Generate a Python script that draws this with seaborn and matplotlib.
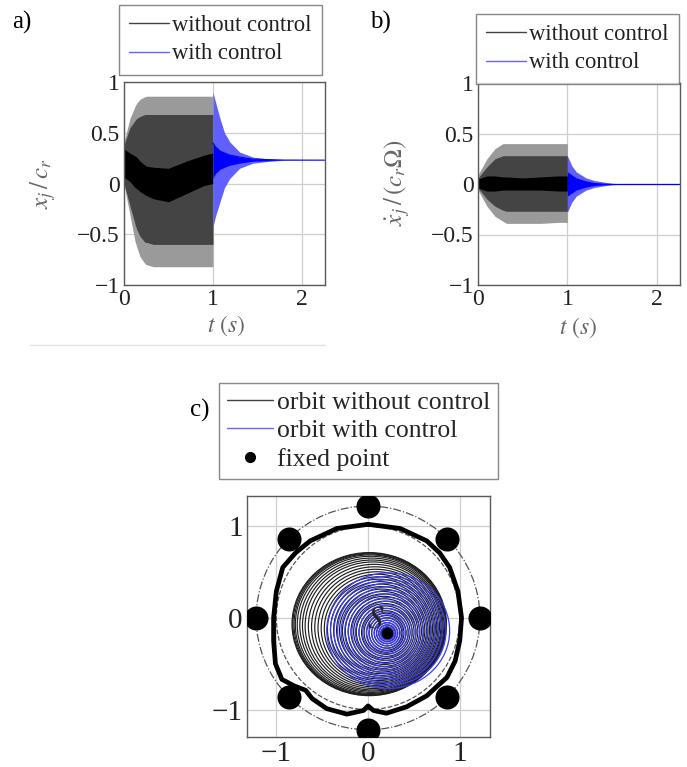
import numpy as np
import pandas as pd
import matplotlib
matplotlib.use("Agg")
import matplotlib.pyplot as plt
import seaborn as sns
from matplotlib.patches import Circle, Ellipse
from matplotlib.lines import Line2D

# ---------------- data ----------------
# panel a: envelope of x_j/c_r without control (t in s)
ta_env = [0.0, 0.067, 0.124, 0.142, 0.18, 0.236, 0.255, 0.33, 0.5, 0.7, 0.9, 1.0]
a_up   = [0.41, 0.64, 0.76, 0.79, 0.83, 0.855, 0.86, 0.86, 0.86, 0.86, 0.86, 0.86]
a_lo   = [-0.01, -0.31, -0.57, -0.62, -0.72, -0.79, -0.80, -0.82, -0.82, -0.82, -0.82, -0.82]
a_mid_up = [0.38, 0.55, 0.62, 0.64, 0.66, 0.68, 0.68, 0.68, 0.68, 0.68, 0.68, 0.68]
a_mid_lo = [0.0, -0.22, -0.40, -0.45, -0.52, -0.58, -0.58, -0.60, -0.60, -0.60, -0.60, -0.60]
a_core_up = [0.34, 0.30, 0.27, 0.26, 0.22, 0.18, 0.17, 0.16, 0.15, 0.22, 0.28, 0.30]
a_core_lo = [0.06, 0.02, -0.04, -0.05, -0.08, -0.11, -0.12, -0.15, -0.18, -0.10, -0.02, 0.0]
# panel a: with control
tca_env = [1.0, 1.03, 1.08, 1.13, 1.19, 1.3, 1.45, 1.64, 1.8, 2.26]
ca_up   = [0.90, 0.80, 0.64, 0.50, 0.41, 0.31, 0.26, 0.24, 0.232, 0.23]
ca_lo   = [-0.43, -0.32, -0.18, -0.04, 0.05, 0.15, 0.20, 0.22, 0.228, 0.23]
ca_core_up = [0.40, 0.36, 0.32, 0.30, 0.28, 0.26, 0.24, 0.235, 0.231, 0.23]
ca_core_lo = [0.05, 0.10, 0.14, 0.16, 0.18, 0.20, 0.22, 0.225, 0.229, 0.23]

# panel b: envelope of xdot_j/(c_r Omega) without control
tb_env = [0.0, 0.1, 0.19, 0.28, 0.32, 0.5, 0.7, 0.9, 1.0]
b_up   = [0.09, 0.25, 0.35, 0.40, 0.40, 0.40, 0.40, 0.40, 0.40]
b_lo   = [-0.06, -0.22, -0.32, -0.37, -0.39, -0.39, -0.39, -0.38, -0.38]
b_mid_up = [0.06, 0.17, 0.25, 0.28, 0.28, 0.28, 0.28, 0.28, 0.28]
b_mid_lo = [-0.04, -0.15, -0.22, -0.26, -0.27, -0.27, -0.27, -0.27, -0.27]
b_core_up = [0.05, 0.08, 0.08, 0.07, 0.07, 0.06, 0.07, 0.08, 0.08]
b_core_lo = [-0.04, -0.07, -0.07, -0.06, -0.06, -0.06, -0.06, -0.07, -0.07]
# panel b: with control
tcb_env = [1.0, 1.05, 1.10, 1.21, 1.30, 1.40, 1.50, 1.60, 2.26]
cb_up   = [0.28, 0.18, 0.12, 0.06, 0.035, 0.02, 0.008, 0.0, 0.0]
cb_lo   = [-0.28, -0.18, -0.12, -0.06, -0.035, -0.02, -0.008, 0.0, 0.0]
cb_core_up = [0.12, 0.09, 0.06, 0.03, 0.015, 0.008, 0.003, 0.0, 0.0]
cb_core_lo = [-0.12, -0.09, -0.06, -0.03, -0.015, -0.008, -0.003, 0.0, 0.0]

# panel c: orbit without control (rings: semi-axes, centre)
orb_rx = [0.842, 0.835, 0.825, 0.815, 0.80, 0.78, 0.76, 0.74, 0.715, 0.69, 0.665, 0.64, 0.615,
          0.59, 0.565, 0.54, 0.515, 0.49, 0.465, 0.44, 0.415, 0.39, 0.365, 0.34, 0.315, 0.29,
          0.265, 0.24, 0.215, 0.19, 0.165, 0.14, 0.115, 0.09, 0.065, 0.045]
orb_ry = [0.78, 0.775, 0.768, 0.76, 0.748, 0.732, 0.715, 0.698, 0.677, 0.655, 0.633, 0.611,
          0.589, 0.566, 0.544, 0.521, 0.498, 0.475, 0.452, 0.429, 0.406, 0.382, 0.358, 0.334,
          0.31, 0.286, 0.262, 0.238, 0.213, 0.189, 0.164, 0.14, 0.115, 0.09, 0.065, 0.045]
orb_cx = [0.013, 0.015, 0.018, 0.022, 0.028, 0.036, 0.045, 0.054, 0.064, 0.074, 0.084, 0.094,
          0.104, 0.113, 0.122, 0.131, 0.139, 0.147, 0.154, 0.161, 0.167, 0.173, 0.178, 0.183,
          0.187, 0.191, 0.194, 0.197, 0.2, 0.202, 0.204, 0.206, 0.207, 0.208, 0.209, 0.21]
orb_cy = [-0.068, -0.069, -0.071, -0.073, -0.076, -0.08, -0.084, -0.088, -0.093, -0.098,
          -0.103, -0.108, -0.113, -0.118, -0.122, -0.126, -0.130, -0.134, -0.138, -0.141,
          -0.144, -0.147, -0.150, -0.152, -0.154, -0.156, -0.158, -0.160, -0.162, -0.164,
          -0.165, -0.166, -0.167, -0.168, -0.169, -0.17]
# panel c: orbit with control
ctl_rx = [0.67, 0.63, 0.59, 0.55, 0.51, 0.47, 0.43, 0.39, 0.35, 0.31, 0.27, 0.23, 0.20,
          0.17, 0.14, 0.115, 0.095, 0.075, 0.058, 0.043, 0.032, 0.022]
ctl_ry = [0.63, 0.595, 0.56, 0.525, 0.488, 0.452, 0.415, 0.378, 0.34, 0.302, 0.264, 0.226,
          0.197, 0.168, 0.139, 0.114, 0.094, 0.074, 0.058, 0.043, 0.032, 0.022]
ctl_cx = [0.22, 0.22, 0.219, 0.218, 0.217, 0.216, 0.215, 0.214, 0.213, 0.212, 0.212, 0.211,
          0.211, 0.21, 0.21, 0.21, 0.21, 0.21, 0.21, 0.21, 0.21, 0.21]
ctl_cy = [-0.14, -0.142, -0.145, -0.147, -0.15, -0.152, -0.154, -0.156, -0.158, -0.16,
          -0.162, -0.163, -0.164, -0.165, -0.166, -0.167, -0.168, -0.169, -0.17, -0.17, -0.17, -0.17]
fixed_x = [0.21]
fixed_y = [-0.17]
# clearance boundary (thick curve)
bnd_x = [0.0, 0.35, 0.64, 0.78, 0.89, 0.98, 1.02, 1.0, 0.95, 0.86, 0.76, 0.64, 0.42, 0.2,
         0.06, 0.0, -0.05, -0.23, -0.45, -0.61, -0.68, -0.81, -0.94, -1.01, -1.03, -1.03,
         -1.0, -0.93, -0.79, -0.63, -0.34, 0.0]
bnd_y = [1.02, 0.975, 0.84, 0.71, 0.55, 0.29, 0.0, -0.25, -0.47, -0.65, -0.74, -0.85, -0.97,
         -1.04, -1.01, -0.96, -1.01, -1.05, -0.99, -0.88, -0.79, -0.74, -0.67, -0.5, -0.25,
         0.0, 0.29, 0.55, 0.71, 0.84, 0.975, 1.02]
# bearing pads (on the dash-dot circle)
pad_x = [1.22, 0.86, 0.0, -0.86, -1.22, -0.86, 0.0, 0.86]
pad_y = [0.0, 0.86, 1.22, 0.86, 0.0, -0.86, -1.22, -0.86]
ring_dashdot_r = 1.22
ring_dashed_r = 1.0

ticks_ab_y = [-1, -0.5, 0, 0.5, 1]
ticks_ab_x = [0, 1, 2]
ticks_c = [-1, 0, 1]

# ---------------- styling ----------------
sns.set_theme(style="whitegrid")
plt.rcParams["font.family"] = ["Liberation Serif", "DejaVu Serif"]
plt.rcParams["mathtext.fontset"] = "stix"

W, H = 687, 767
fig = plt.figure(figsize=(W / 100, H / 100), dpi=100)
fig.patch.set_facecolor("white")

def box(l, t, r, b):
    return [l / W, 1 - b / H, (r - l) / W, (b - t) / H]

def fmt(v):
    s = ("%g" % v)
    return s.replace("-", "\u2212")

def style_ax(ax, fs):
    ax.set_facecolor("white")
    for sp in ax.spines.values():
        sp.set_color("#5a5a5a")
        sp.set_linewidth(1.0)
        sp.set_visible(True)
    ax.grid(True, color="#cfcfcf", lw=0.9)
    ax.tick_params(length=0, labelsize=fs, colors="#222222", pad=3)

GRAY_OUT = "#9a9a9a"
GRAY_MID = "#444444"
BLUE_OUT = "#6060ff"
BLUE_IN = "#0000ff"

def leg_lines(ax, labels, right, top):
    h = [Line2D([], [], color="#444444", lw=1.0), Line2D([], [], color="#6464ff", lw=1.0)]
    lg = fig.legend(h, labels, loc="upper right", bbox_to_anchor=(right / W, 1 - top / H),
                    bbox_transform=fig.transFigure, fontsize=16.3, frameon=True, fancybox=False,
                    handlelength=1.75, handletextpad=0.15, borderpad=0.45, labelspacing=0.32,
                    borderaxespad=0)
    lg.get_frame().set_edgecolor("#6a6a6a")
    lg.get_frame().set_linewidth(1.0)
    for t in lg.get_texts():
        t.set_color("#222222")
    return lg

# ---------------- panel a ----------------
axa = fig.add_axes(box(124, 82, 325, 285))
style_ax(axa, 17)
axa.fill_between(ta_env, a_lo, a_up, color=GRAY_OUT, lw=0)
axa.fill_between(ta_env, a_mid_lo, a_mid_up, color=GRAY_MID, lw=0)
axa.fill_between(ta_env, a_core_lo, a_core_up, color="#000000", lw=0)
axa.fill_between(tca_env, ca_lo, ca_up, color=BLUE_OUT, lw=0)
axa.fill_between(tca_env, ca_core_lo, ca_core_up, color=BLUE_IN, lw=0)
sns.lineplot(x=tca_env, y=ca_core_up, ax=axa, color=BLUE_IN, lw=0.8, legend=False)
axa.set_xlim(0, 2.26)
axa.set_ylim(-1, 1)
axa.set_xticks(ticks_ab_x)
axa.set_xticklabels([fmt(v) for v in ticks_ab_x])
axa.set_yticks(ticks_ab_y)
axa.set_yticklabels([fmt(v) for v in ticks_ab_y])
axa.set_xlabel("")
axa.set_ylabel("")
fig.text(43 / W, 1 - 183 / H, r"$x_j\,/\,c_r$", rotation=90, ha="center", va="center",
         fontsize=18, color="#666666")
fig.text(226 / W, 1 - 326 / H, r"$t\ (s)$", ha="center", va="center", fontsize=17,
         color="#666666")
leg_lines(axa, ["without control", "with control"], 322, 5)
fig.text(12 / W, 1 - 22 / H, "a)", ha="left", va="center", fontsize=18, color="black")

# ---------------- panel b ----------------
axb = fig.add_axes(box(478, 83, 680, 285))
style_ax(axb, 17)
axb.fill_between(tb_env, b_lo, b_up, color=GRAY_OUT, lw=0)
axb.fill_between(tb_env, b_mid_lo, b_mid_up, color=GRAY_MID, lw=0)
axb.fill_between(tb_env, b_core_lo, b_core_up, color="#000000", lw=0)
axb.fill_between(tcb_env, cb_lo, cb_up, color=BLUE_OUT, lw=0)
axb.fill_between(tcb_env, cb_core_lo, cb_core_up, color=BLUE_IN, lw=0)
sns.lineplot(x=tcb_env, y=[0] * len(tcb_env), ax=axb, color=BLUE_IN, lw=0.9, legend=False)
axb.set_xlim(0, 2.26)
axb.set_ylim(-1, 1)
axb.set_xticks(ticks_ab_x)
axb.set_xticklabels([fmt(v) for v in ticks_ab_x])
axb.set_yticks(ticks_ab_y)
axb.set_yticklabels([fmt(v) for v in ticks_ab_y])
axb.set_xlabel("")
axb.set_ylabel("")
fig.text(397 / W, 1 - 183 / H, r"$\dot{x}_j\,/\,(c_r\Omega)$", rotation=90, ha="center",
         va="center", fontsize=18, color="#666666")
fig.text(578 / W, 1 - 328 / H, r"$t\ (s)$", ha="center", va="center", fontsize=17,
         color="#666666")
leg_lines(axb, ["without control", "with control"], 679, 14)
fig.text(370 / W, 1 - 22 / H, "b)", ha="left", va="center", fontsize=18, color="black")

# faint separator line under panel a
fig.add_artist(Line2D([30 / W, 325 / W], [1 - 345 / H, 1 - 345 / H], color="#e4e4e4", lw=1.0))

# ---------------- panel c ----------------
axc = fig.add_axes(box(247, 495, 490, 738))
style_ax(axc, 21)
axc.add_patch(Circle((0, 0), ring_dashdot_r, fill=False, ls="-.", lw=0.9, color="#555555", zorder=2))
axc.add_patch(Circle((0, 0), ring_dashed_r, fill=False, ls="--", lw=0.9, color="#555555", zorder=2))
for rx, ry, cx, cy in zip(orb_rx, orb_ry, orb_cx, orb_cy):
    axc.add_patch(Ellipse((cx, cy), 2 * rx, 2 * ry, fill=False, lw=0.85, color="#1e1e1e", zorder=3))
for rx, ry, cx, cy in zip(ctl_rx, ctl_ry, ctl_cx, ctl_cy):
    axc.add_patch(Ellipse((cx, cy), 2 * rx, 2 * ry, fill=False, lw=0.9, color="#3a3aff", zorder=4))
sns.lineplot(x=bnd_x, y=bnd_y, sort=False, estimator=None, ax=axc, color="black", lw=3.4,
             legend=False, zorder=5)
sns.scatterplot(x=pad_x, y=pad_y, ax=axc, s=300, color="black", edgecolor="black",
                linewidth=0, zorder=6, legend=False)
sns.scatterplot(x=fixed_x, y=fixed_y, ax=axc, s=70, color="black", marker="o",
                linewidth=0, zorder=7, legend=False)
axc.text(0.08, -0.02, r"$S$", fontsize=22, ha="center", va="center", zorder=8)
axc.set_xlim(-1.32, 1.33)
axc.set_ylim(-1.30, 1.33)
axc.set_aspect("equal", adjustable="box")
axc.set_xticks(ticks_c)
axc.set_xticklabels([fmt(v) for v in ticks_c])
axc.set_yticks(ticks_c)
axc.set_yticklabels([fmt(v) for v in ticks_c])
axc.set_xlabel("")
axc.set_ylabel("")

hc = [Line2D([], [], color="#444444", lw=1.0),
      Line2D([], [], color="#6464ff", lw=1.0),
      Line2D([], [], color="black", lw=0, marker="o", markersize=7)]
lgc = fig.legend(hc, ["orbit without control", "orbit with control", "fixed point"],
                 loc="upper right", bbox_to_anchor=(498 / W, 1 - 383 / H),
                 bbox_transform=fig.transFigure, fontsize=18.5, frameon=True, fancybox=False,
                 handlelength=1.8, handletextpad=0.15, borderpad=0.3, labelspacing=0.22,
                 borderaxespad=0)
lgc.get_frame().set_edgecolor("#6a6a6a")
lgc.get_frame().set_linewidth(1.0)
fig.text(190 / W, 1 - 410 / H, "c)", ha="left", va="center", fontsize=18, color="black")

fig.savefig("out.png", dpi=100, facecolor="white")
